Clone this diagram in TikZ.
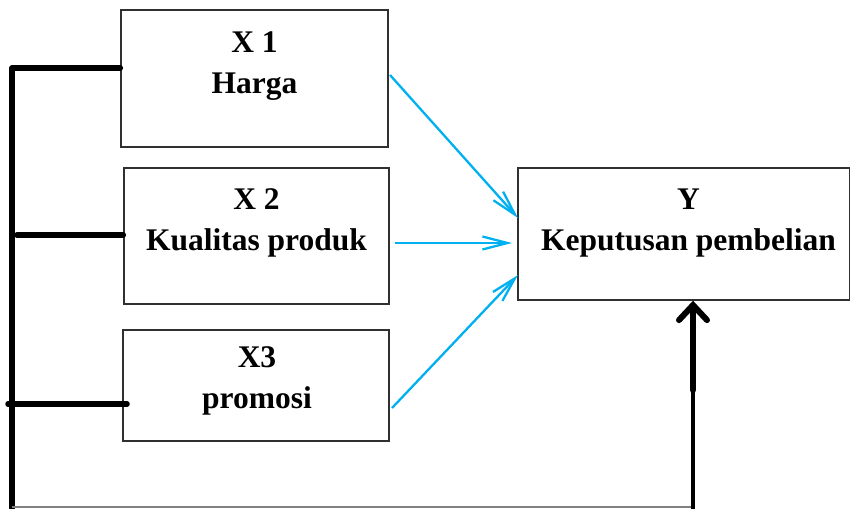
\documentclass[tikz,border=0pt]{standalone}
\usepackage{fontspec}
\setmainfont{Liberation Serif}
\usetikzlibrary{arrows.meta}
\definecolor{arrowblue}{HTML}{00B0F0}
\definecolor{boxline}{HTML}{303030}
\definecolor{baseline}{HTML}{808080}
\tikzset{
  varbox/.style={draw=boxline, line width=1.4pt, minimum width=#1, inner sep=0pt},
  boxtext/.style={anchor=north, align=center, inner sep=0pt,
    font=\fontsize{31.5}{41}\selectfont\bfseries},
  bus/.style={line width=5.5pt, line cap=round, line join=round},
  effect/.style={draw=arrowblue, line width=2.3pt,
    -{Straight Barb[length=25pt,width=13pt,line width=2.3pt]}},
  joint/.style={line width=4.5pt},
  jointhead/.style={line width=6.5pt, line cap=round,
    -{Straight Barb[length=15pt,width=28pt,line width=6pt,line cap=round]}},
  floor/.style={draw=baseline, line width=1.5pt}
}
\begin{document}
\begin{tikzpicture}[x=1pt,y=-1pt]
\useasboundingbox (0,0) rectangle (850,508);
% boxes
\node[varbox=267pt, minimum height=137pt] (x1) at (254.5,78.5) {};
\node[varbox=265pt, minimum height=136pt] (x2) at (256.5,236) {};
\node[varbox=266pt, minimum height=111pt] (x3) at (256,385.5) {};
\node[varbox=332pt, minimum height=132pt] (y) at (684,234) {};
% texts
\node[boxtext] (t1) at (254.5,32) {X 1\\Harga};
\node[boxtext] (t2) at (256.5,188) {X 2\\Kualitas produk};
\node[boxtext] (t3) at (257,346) {X3\\promosi};
\node[boxtext] (ty) at (688.5,189) {Y\\Keputusan pembelian};
% bus coordinates
\coordinate (bustop) at (12,68);
\coordinate (busbot) at (12,508);
\coordinate (b2) at (17,235);
\coordinate (b3) at (8,404);
\coordinate (b3e) at (127,404);
\coordinate (fl) at (12,507);
\coordinate (fr) at (693,507);
\coordinate (jb) at (693,510);
\coordinate (jm) at (693,390);
% bus lines
\draw[bus] (x1.west |- bustop) -- (bustop) -- (busbot);
\draw[bus] (b2) -- (x2.west |- b2);
\draw[bus] (b3) -- (b3e);
\draw[floor] (fl) -- (fr);
\draw[joint] (jb) -- (jm);
\draw[jointhead] (jm) -- (y.south -| jm);
% effects
\coordinate (s1) at (390,75);
\coordinate (e1) at (518,218);
\coordinate (s2) at (395,243);
\coordinate (e2) at (512,243);
\coordinate (s3) at (392,408);
\coordinate (e3) at (518,275);
\draw[effect] (s1) -- (e1);
\draw[effect] (s2) -- (e2);
\draw[effect] (s3) -- (e3);
\end{tikzpicture}
\end{document}
